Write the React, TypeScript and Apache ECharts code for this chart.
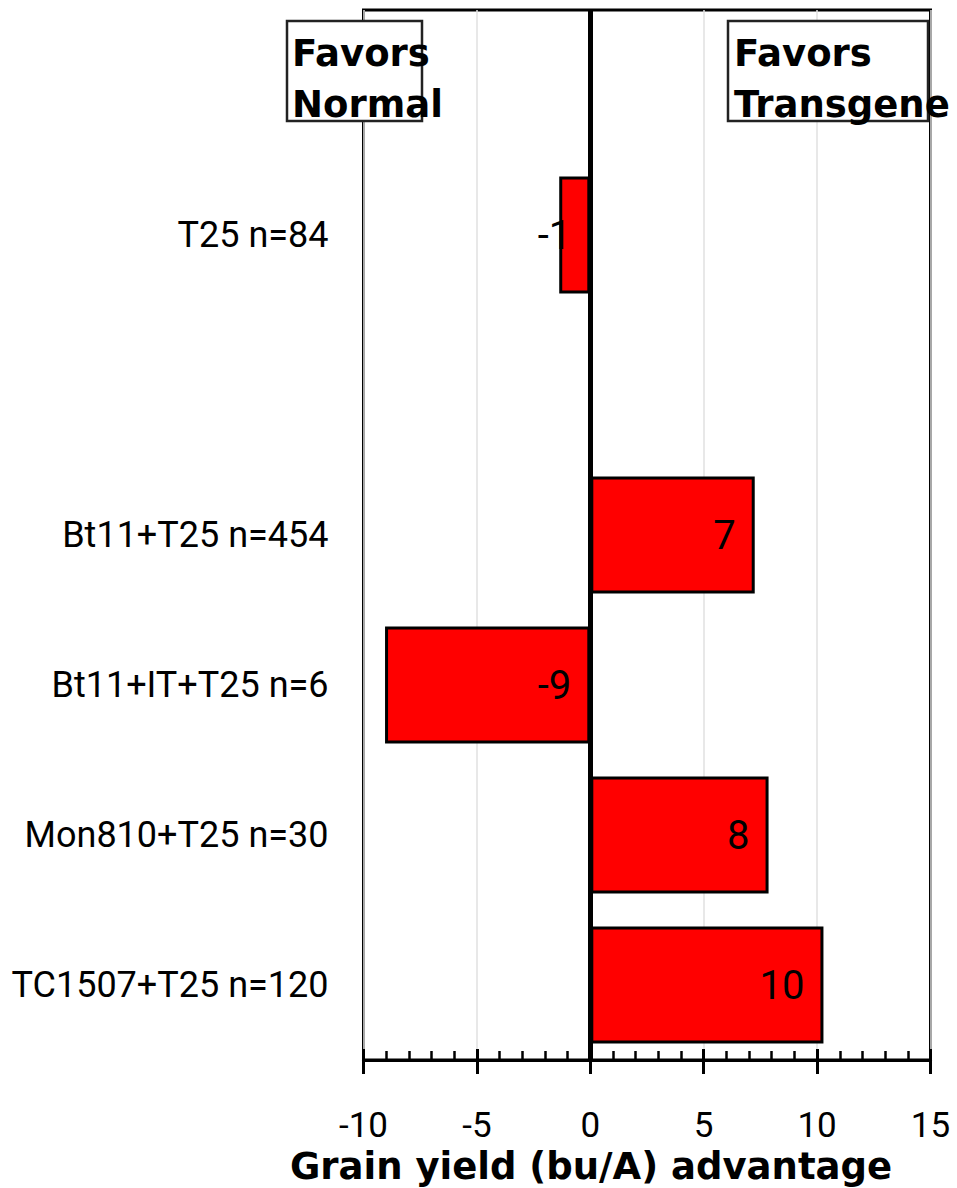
import React, { useEffect, useRef } from "react";
import * as echarts from "echarts";

// Treatment groups, top to bottom (blank entries keep spacing between groups)
const categories = [
  "",
  "T25 n=84",
  "",
  "Bt11+T25 n=454",
  "Bt11+IT+T25 n=6",
  "Mon810+T25 n=30",
  "TC1507+T25 n=120",
];

// Grain yield advantage of the transgenic hybrid over its normal counterpart (bu/A)
const yieldAdvantage: (number | null)[] = [null, -1.37, null, 7.25, -9.05, 7.86, 10.28];

// Value axis range and tick steps
const axisMin = -10;
const axisMax = 15;
const majorStep = 5;
const minorStep = 1;

const axisTitle = "Grain yield (bu/A) advantage";
const leftNote = "Favors\nNormal";
const rightNote = "Favors\nTransgene";

const REGULAR = "Roboto, 'Noto Sans', sans-serif";
const BOLD = "'DejaVu Sans', Verdana, sans-serif";

export default function App() {
  const ref = useRef<HTMLDivElement>(null);

  useEffect(() => {
    if (!ref.current) return;
    const chart = echarts.init(ref.current, undefined, { renderer: "svg" });

    const baseX = {
      type: "value" as const,
      min: axisMin,
      max: axisMax,
      position: "bottom" as const,
      gridIndex: 0,
    };

    chart.setOption({
      animation: false,
      backgroundColor: "#fff",
      grid: {
        left: 363.5,
        right: 26.5,
        top: 10,
        bottom: 128,
        show: true,
        borderColor: "#000",
        borderWidth: 3,
        backgroundColor: "transparent",
      },
      xAxis: [
        {
          ...baseX,
          interval: majorStep,
          axisLine: { show: true, onZero: false, lineStyle: { color: "#000", width: 3 } },
          axisTick: { show: true, inside: false, length: 14, lineStyle: { color: "#000", width: 3 } },
          axisLabel: {
            show: true,
            color: "#000",
            fontSize: 35,
            fontFamily: REGULAR,
            margin: 48,
          },
          splitLine: { show: true, lineStyle: { color: "#e0e0e0", width: 1.5 } },
        },
        {
          ...baseX,
          interval: minorStep,
          axisLine: { show: false, onZero: false },
          axisTick: { show: true, inside: true, length: 9, lineStyle: { color: "#000", width: 2.5 } },
          axisLabel: { show: false },
          splitLine: { show: false },
        },
        {
          ...baseX,
          interval: majorStep,
          axisLine: { show: false, onZero: false },
          axisTick: { show: true, inside: true, length: 11, lineStyle: { color: "#000", width: 3 } },
          axisLabel: { show: false },
          splitLine: { show: false },
        },
      ],
      yAxis: {
        type: "category",
        inverse: true,
        data: categories,
        axisLine: { show: false },
        axisTick: { show: false },
        splitLine: { show: false },
        axisLabel: {
          color: "#000",
          fontSize: 36,
          fontFamily: REGULAR,
          margin: 35,
        },
      },
      series: [
        {
          type: "bar",
          xAxisIndex: 0,
          yAxisIndex: 0,
          data: yieldAdvantage,
          barCategoryGap: "22%",
          itemStyle: { color: "#ff0000", borderColor: "#000", borderWidth: 3 },
          label: {
            show: true,
            position: "insideRight",
            distance: 19,
            color: "#000",
            fontSize: 40,
            fontFamily: REGULAR,
            formatter: (p: any) => String(Math.round(p.value)),
          },
          markLine: {
            silent: true,
            symbol: ["none", "none"],
            label: { show: false },
            lineStyle: { color: "#000", width: 5, type: "solid" },
            data: [{ xAxis: 0 }],
          },
        },
      ],
      graphic: [
        {
          type: "rect",
          z: 100,
          shape: { x: 287, y: 21, width: 135, height: 100 },
          style: { fill: "#fff", stroke: "#222", lineWidth: 2.5 },
        },
        {
          type: "text",
          z: 101,
          x: 292,
          y: 28,
          style: {
            text: leftNote,
            fill: "#000",
            font: `bold 37px ${BOLD}`,
            lineHeight: 51,
            align: "left",
            verticalAlign: "top",
          },
        },
        {
          type: "rect",
          z: 100,
          shape: { x: 728, y: 21, width: 200, height: 100 },
          style: { fill: "#fff", stroke: "#222", lineWidth: 2.5 },
        },
        {
          type: "text",
          z: 101,
          x: 734,
          y: 28,
          style: {
            text: rightNote,
            fill: "#000",
            font: `bold 37px ${BOLD}`,
            lineHeight: 51,
            align: "left",
            verticalAlign: "top",
          },
        },
        {
          type: "text",
          z: 101,
          x: 591,
          y: 1166,
          style: {
            text: axisTitle,
            fill: "#000",
            font: `bold 37px ${BOLD}`,
            align: "center",
            verticalAlign: "middle",
          },
        },
      ],
    });

    return () => chart.dispose();
  }, []);

  return (
    <div
      ref={ref}
      style={{ position: "absolute", left: 0, top: 0, width: 957, height: 1188 }}
    />
  );
}
